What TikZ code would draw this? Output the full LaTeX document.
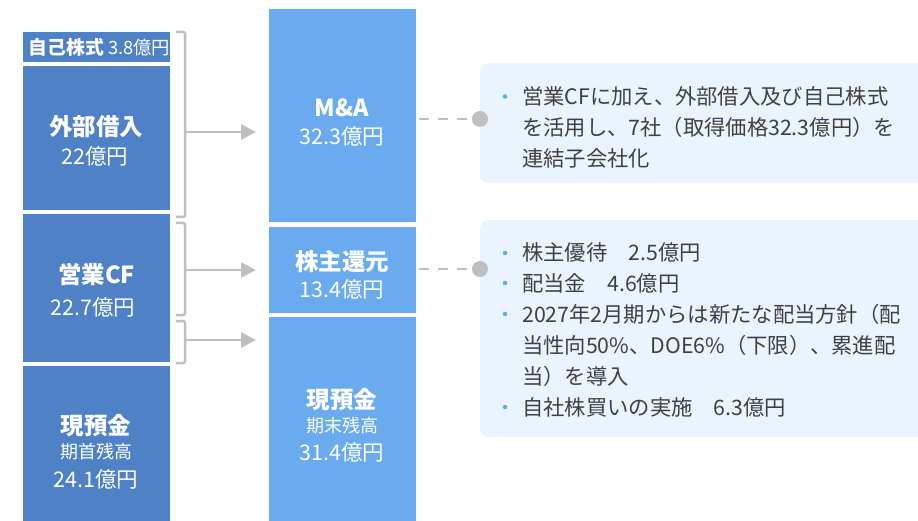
\documentclass[tikz,border=0pt]{standalone}
\usepackage{fontspec}
\setmainfont{Noto Sans CJK JP}
\usetikzlibrary{arrows.meta}
\definecolor{lblue}{HTML}{4F81C6}
\definecolor{mblue}{HTML}{69ABEE}
\definecolor{panel}{HTML}{EAF4FE}
\definecolor{gr}{HTML}{BFBFBF}
\definecolor{txt}{HTML}{404040}
\definecolor{dotc}{HTML}{5AAEE8}
\tikzset{
 lboxst/.style={fill=lblue, draw=none, anchor=north west, inner sep=0pt, minimum width=147pt},
 mboxst/.style={fill=mblue, draw=none, anchor=north west, inner sep=0pt, minimum width=147pt},
 ttl/.style={text=white, font=\fontsize{23.5}{28}\selectfont\bfseries, inner sep=0pt},
 subt/.style={text=white, font=\fontsize{21.5}{26}\selectfont, inner sep=0pt},
 smallt/.style={text=white, font=\fontsize{18}{22}\selectfont, inner sep=0pt},
 brk/.style={draw=gr, line width=2.5pt, rounded corners=2pt},
 arr/.style={draw=gr, line width=2.5pt, -{Triangle[length=15pt,width=15pt]}, shorten >=13pt},
 dsh/.style={draw=gr, line width=2.5pt, dash pattern=on 10pt off 9pt, shorten <=3pt},
 pnl/.style={fill=panel, draw=none, rounded corners=8pt, anchor=north west, inner sep=0pt, minimum width=470pt},
 bt/.style={text=txt, font=\fontsize{21.3}{31}\selectfont, anchor=base west, inner sep=0pt},
 dotst/.style={circle, fill=dotc, draw=none, inner sep=0pt, minimum size=4.5pt},
 knob/.style={circle, fill=gr, draw=none, inner sep=0pt, minimum size=16pt}
}
\begin{document}
\begin{tikzpicture}[x=1pt,y=-1pt]
\useasboundingbox (0,0) rectangle (918,521);
\clip (0,0) rectangle (918,521);
% left column
\node[lboxst, minimum height=30pt] (jisha) at (23,32) {};
\node[lboxst, minimum height=144pt] (gaibu) at (23,66) {};
\node[lboxst, minimum height=148pt] (eigyo) at (23,214) {};
\node[lboxst, minimum height=170pt] (genL) at (23,366) {};
% middle column
\node[mboxst, minimum height=213pt] (ma) at (269,9) {};
\node[mboxst, minimum height=86pt] (kabu) at (269,227) {};
\node[mboxst, minimum height=220pt] (genR) at (269,317) {};
% left texts
\node[inner sep=0pt, text=white, font=\fontsize{18.8}{22}\selectfont] (tjisha) at (99.5,47) {{\bfseries 自己株式} {\fontsize{18.3}{20}\selectfont 3.8億円}};
\node[ttl] (tgaibu) at (96,127) {外部借入};
\node[subt] (tgaibuv) at (95,156) {22億円};
\node[ttl] (teigyo) at (96.5,275) {営業CF};
\node[subt] (teigyov) at (93,307) {22.7億円};
\node[ttl] (tgenL) at (96,426) {現預金};
\node[smallt] (tgenLs) at (96,452) {期首残高};
\node[subt] (tgenLv) at (96,479) {24.1億円};
% middle texts
\node[ttl] (tma) at (342,108) {M\&A};
\node[subt] (tmav) at (342,136) {32.3億円};
\node[ttl] (tkabu) at (342,262) {株主還元};
\node[subt] (tkabuv) at (342,289) {13.4億円};
\node[ttl] (tgenR) at (342,400) {現預金};
\node[smallt] (tgenRs) at (342,426) {期末残高};
\node[subt] (tgenRv) at (342,452) {31.4億円};
% brackets and arrows
\coordinate (c1) at (185,132);
\coordinate (c2) at (185,270);
\coordinate (c3) at (185,340);
\draw[brk] (176,32) -- (185,32) -- (185,217) -- (176,217);
\draw[brk] (176,223) -- (185,223) -- (185,315) -- (176,315);
\draw[brk] (176,321) -- (185,321) -- (185,363) -- (176,363);
\draw[arr] (c1) -- (ma.west |- c1);
\draw[arr] (c2) -- (kabu.west |- c2);
\draw[arr] (c3) -- (genR.west |- c3);
% panels
\node[pnl, minimum height=120pt] (p1) at (480,63) {};
\node[pnl, minimum height=217pt] (p2) at (480,220) {};
% connectors
\node[knob] (k1) at (480,119) {};
\node[knob] (k2) at (480,269) {};
\draw[dsh] (ma.east |- k1) -- (k1.west);
\draw[dsh] (kabu.east |- k2) -- (k2.west);
% panel 1 text
\node[dotst] (d1) at (505,96.5) {};
\node[bt] (l11) at (522,104.5) {営業CFに加え、外部借入及び自己株式};
\node[bt] (l12) at (522,136) {を活用し、7社（取得価格32.3億円）を};
\node[bt] (l13) at (522,166.5) {連結子会社化};
% panel 2 text
\node[dotst] (d21) at (505,253) {};
\node[bt] (l21) at (522,261) {株主優待　2.5億円};
\node[dotst] (d22) at (505,283) {};
\node[bt] (l22) at (522,291) {配当金　4.6億円};
\node[dotst] (d23) at (505,314) {};
\node[bt] (l23) at (522,322) {2027年2月期からは新たな配当方針（配};
\node[bt] (l24) at (522,353) {当性向50\%、DOE6\%（下限）、累進配};
\node[bt] (l25) at (522,384) {当）を導入};
\node[dotst] (d24) at (505,407) {};
\node[bt] (l26) at (522,415) {自社株買いの実施　6.3億円};
\end{tikzpicture}
\end{document}
